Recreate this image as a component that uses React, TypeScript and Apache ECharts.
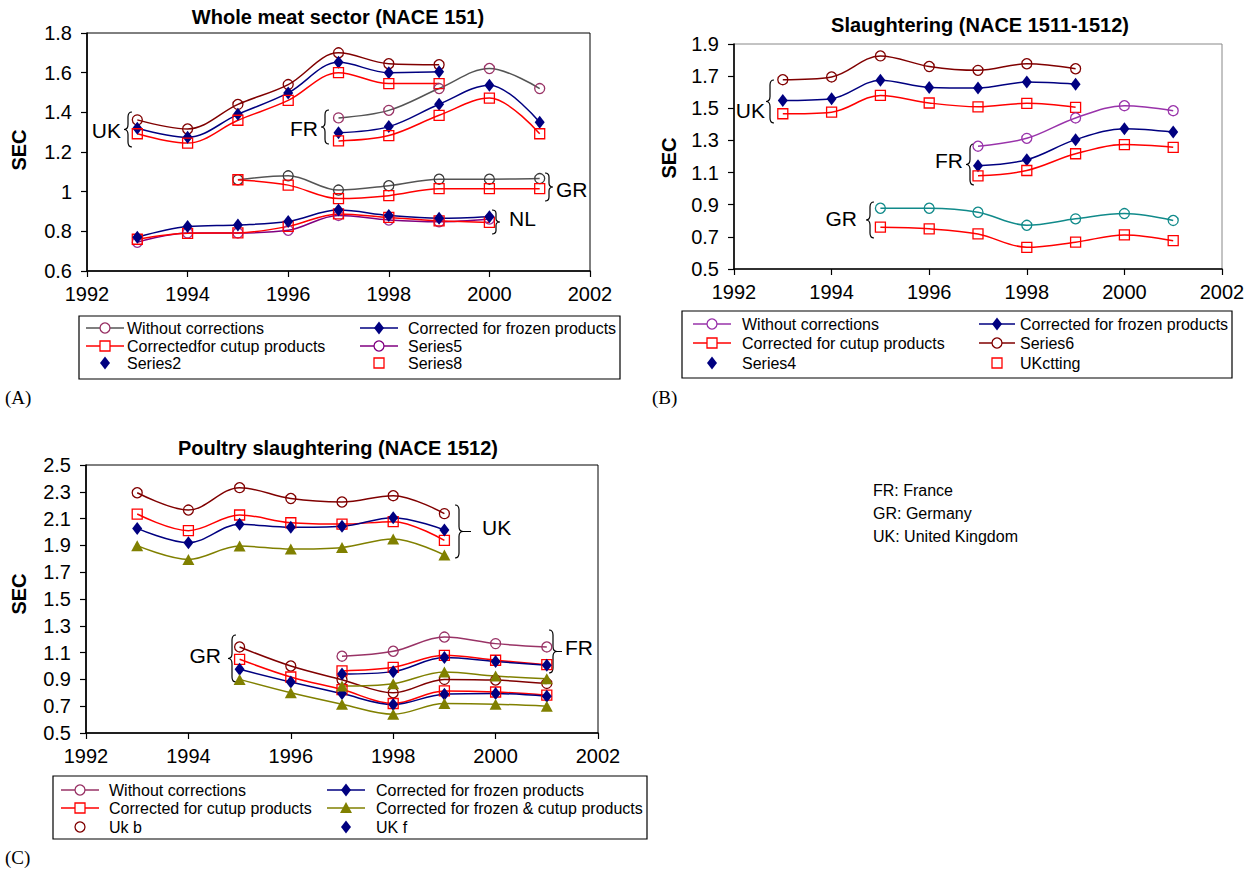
import { useEffect, useRef } from "react";
import * as echarts from "echarts";

const FONT = "'Liberation Sans', Arial, Helvetica, sans-serif";
const SERIF = "'Liberation Serif', 'Times New Roman', Times, serif";

// ---------- data ----------
const YEARS = [1993, 1994, 1995, 1996, 1997, 1998, 1999, 2000, 2001];
const X_MIN = 1992;
const X_MAX = 2002;
const X_STEP = 2;

// Panel A – Whole meat sector (NACE 151)
const A_UK_RAW = [1.362, 1.316, 1.44, 1.54, 1.7, 1.645, 1.64, null, null];
const A_UK_FROZEN = [1.32, 1.274, 1.39, 1.498, 1.652, 1.6, 1.604, null, null];
const A_UK_CUTUP = [1.292, 1.245, 1.36, 1.46, 1.6, 1.545, 1.545, null, null];
const A_FR_RAW = [null, null, null, null, 1.372, 1.41, 1.52, 1.621, 1.52];
const A_FR_FROZEN = [null, null, null, null, 1.297, 1.328, 1.441, 1.537, 1.35];
const A_FR_CUTUP = [null, null, null, null, 1.256, 1.283, 1.385, 1.472, 1.292];
const A_GR_RAW = [null, null, 1.06, 1.08, 1.008, 1.03, 1.063, 1.063, 1.066];
const A_GR_CUTUP = [null, null, 1.06, 1.033, 0.965, 0.98, 1.015, 1.015, 1.015];
const A_NL_FROZEN = [0.77, 0.824, 0.832, 0.85, 0.907, 0.88, 0.866, 0.874, null];
const A_NL_CUTUP = [0.76, 0.79, 0.792, 0.825, 0.888, 0.87, 0.853, 0.845, null];
const A_NL_RAW = [0.745, 0.792, 0.792, 0.805, 0.88, 0.857, 0.848, 0.862, null];

// Panel B – Slaughtering (NACE 1511-1512)
const B_UK_RAW = [1.678, 1.695, 1.826, 1.76, 1.736, 1.777, 1.746, null, null];
const B_UK_FROZEN = [1.549, 1.56, 1.674, 1.63, 1.626, 1.663, 1.65, null, null];
const B_UK_CUTUP = [1.466, 1.476, 1.58, 1.533, 1.509, 1.531, 1.506, null, null];
const B_FR_RAW = [null, null, null, null, 1.264, 1.313, 1.44, 1.516, 1.485];
const B_FR_FROZEN = [null, null, null, null, 1.143, 1.18, 1.305, 1.373, 1.352];
const B_FR_CUTUP = [null, null, null, null, 1.08, 1.113, 1.217, 1.274, 1.257];
const B_GR_RAW = [null, null, 0.878, 0.878, 0.853, 0.772, 0.812, 0.845, 0.802];
const B_GR_CUTUP = [null, null, 0.76, 0.75, 0.718, 0.635, 0.667, 0.712, 0.676];

// Panel C – Poultry slaughtering (NACE 1512)
const C_UK_RAW = [2.293, 2.164, 2.331, 2.25, 2.224, 2.271, 2.137, null, null];
const C_UK_CUTUP = [2.134, 2.01, 2.127, 2.069, 2.059, 2.077, 1.937, null, null];
const C_UK_FROZEN = [2.027, 1.92, 2.057, 2.035, 2.043, 2.107, 2.015, null, null];
const C_UK_BOTH = [1.898, 1.795, 1.895, 1.873, 1.885, 1.948, 1.828, null, null];
const C_GR_RAW = [null, null, 1.142, 1.0, 0.898, 0.8, 0.9, 0.895, 0.87];
const C_GR_CUTUP = [null, null, 1.05, 0.918, 0.824, 0.72, 0.814, 0.806, 0.782];
const C_GR_FROZEN = [null, null, 0.975, 0.88, 0.794, 0.712, 0.79, 0.794, 0.774];
const C_GR_BOTH = [null, null, 0.9, 0.8, 0.715, 0.64, 0.72, 0.715, 0.7];
const C_FR_RAW = [null, null, null, null, 1.073, 1.11, 1.216, 1.167, 1.142];
const C_FR_CUTUP = [null, null, null, null, 0.963, 0.99, 1.08, 1.043, 1.01];
const C_FR_FROZEN = [null, null, null, null, 0.94, 0.958, 1.063, 1.033, 1.006];
const C_FR_BOTH = [null, null, null, null, 0.85, 0.868, 0.955, 0.925, 0.905];

const TITLES = [
  "Whole meat sector (NACE 151)",
  "Slaughtering (NACE 1511-1512)",
  "Poultry slaughtering (NACE 1512)",
];
const NOTES = ["FR: France", "GR: Germany", "UK: United Kingdom"];

// ---------- styles ----------
const BROWN = "#800000";
const NAVY = "#000080";
const RED = "#ff0000";
const PLUM = "#993366";
const GREY = "#555555";
const DARK = "#3a3a3a";
const PURPLE = "#800080";
const VIOLET = "#9933aa";
const TEAL = "#108a8a";
const OLIVE = "#808000";

type Kind = "circle" | "square" | "diamond" | "triangle";

function mk(grid: number, name: string, values: (number | null)[], lineColor: string, kind: Kind, markColor: string) {
  const data = YEARS.map((y, i) => [y, values[i]]).filter((d) => d[1] !== null);
  const s: any = {
    type: "line",
    name,
    xAxisIndex: grid,
    yAxisIndex: grid,
    data,
    smooth: 0.35,
    silent: true,
    showAllSymbol: true,
    emphasis: { disabled: true },
    lineStyle: { color: lineColor, width: 1.5 },
    z: 3,
  };
  if (kind === "circle") {
    s.symbol = "circle";
    s.symbolSize = 10;
    s.itemStyle = { color: "rgba(255,255,255,0)", borderColor: markColor, borderWidth: 1.3 };
  } else if (kind === "square") {
    s.symbol = "rect";
    s.symbolSize = 10;
    s.itemStyle = { color: "rgba(255,255,255,0)", borderColor: markColor, borderWidth: 1.3 };
  } else if (kind === "diamond") {
    s.symbol = "diamond";
    s.symbolSize = [10, 13];
    s.itemStyle = { color: markColor, borderWidth: 0 };
  } else {
    s.symbol = "triangle";
    s.symbolSize = [12, 11];
    s.itemStyle = { color: markColor, borderWidth: 0 };
  }
  return s;
}

// ---------- braces ----------
const BRACES = [
  { name: "bA_UK", dir: "L", x: 124, y: 112, h: 35, tail: 0 },
  { name: "bA_FR", dir: "L", x: 321, y: 110, h: 34, tail: 0 },
  { name: "bA_GR", dir: "R", x: 545, y: 173, h: 28, tail: 0 },
  { name: "bA_NL", dir: "R", x: 492, y: 210, h: 24, tail: 0 },
  { name: "bB_UK", dir: "L", x: 766, y: 80, h: 43, tail: 0 },
  { name: "bB_FR", dir: "L", x: 966, y: 144, h: 41, tail: 0 },
  { name: "bB_GR", dir: "L", x: 866, y: 202, h: 36, tail: 0 },
  { name: "bC_UK", dir: "R", x: 455, y: 505, h: 53, tail: 8 },
  { name: "bC_FR", dir: "R", x: 549, y: 630, h: 43, tail: 5 },
  { name: "bC_GR", dir: "L", x: 228, y: 635, h: 47, tail: 0 },
];

const BRACE_LABELS = [
  { t: "UK", x: 121, y: 130, align: "right" },
  { t: "FR", x: 318, y: 128, align: "right" },
  { t: "GR", x: 556, y: 189, align: "left" },
  { t: "NL", x: 509, y: 218, align: "left" },
  { t: "UK", x: 765, y: 110, align: "right" },
  { t: "FR", x: 963, y: 160, align: "right" },
  { t: "GR", x: 857, y: 218, align: "right" },
  { t: "UK", x: 482, y: 527, align: "left" },
  { t: "FR", x: 565, y: 647, align: "left" },
  { t: "GR", x: 221, y: 655, align: "right" },
];

function braceD(h: number, dir: string, tail: number): string {
  const w = 8;
  const m = h / 2;
  const r = Math.min(5, h / 7);
  const X = (x: number) => (dir === "L" ? x : w - x);
  let d =
    `M ${X(w)} 0 Q ${X(w / 2)} 0 ${X(w / 2)} ${r} L ${X(w / 2)} ${m - r} ` +
    `Q ${X(w / 2)} ${m} ${X(0)} ${m} Q ${X(w / 2)} ${m} ${X(w / 2)} ${m + r} ` +
    `L ${X(w / 2)} ${h - r} Q ${X(w / 2)} ${h} ${X(w)} ${h}`;
  if (tail > 0) d += ` M ${w} ${m} L ${w + tail} ${m}`;
  return d;
}

let shapesRegistered = false;
function ensureShapes() {
  if (shapesRegistered) return;
  shapesRegistered = true;
  for (const b of BRACES) {
    echarts.graphic.registerShape(b.name, echarts.graphic.extendPath(braceD(b.h, b.dir, b.tail), {}) as any);
  }
}

// ---------- legends ----------
type LegItem = { col: number; row: number; kind: Kind; mark: string; line: string | null; text: string };
const A_LEGEND: LegItem[] = [
  { col: 0, row: 0, kind: "circle", mark: PLUM, line: GREY, text: "Without corrections" },
  { col: 1, row: 0, kind: "diamond", mark: NAVY, line: NAVY, text: "Corrected for frozen products" },
  { col: 0, row: 1, kind: "square", mark: RED, line: RED, text: "Correctedfor cutup products" },
  { col: 1, row: 1, kind: "circle", mark: PURPLE, line: PURPLE, text: "Series5" },
  { col: 0, row: 2, kind: "diamond", mark: NAVY, line: null, text: "Series2" },
  { col: 1, row: 2, kind: "square", mark: RED, line: null, text: "Series8" },
];
const B_LEGEND: LegItem[] = [
  { col: 0, row: 0, kind: "circle", mark: VIOLET, line: VIOLET, text: "Without corrections" },
  { col: 1, row: 0, kind: "diamond", mark: NAVY, line: NAVY, text: "Corrected for frozen products" },
  { col: 0, row: 1, kind: "square", mark: RED, line: RED, text: "Corrected for cutup products" },
  { col: 1, row: 1, kind: "circle", mark: BROWN, line: BROWN, text: "Series6" },
  { col: 0, row: 2, kind: "diamond", mark: NAVY, line: null, text: "Series4" },
  { col: 1, row: 2, kind: "square", mark: RED, line: null, text: "UKctting" },
];
const C_LEGEND: LegItem[] = [
  { col: 0, row: 0, kind: "circle", mark: PLUM, line: PLUM, text: "Without corrections" },
  { col: 1, row: 0, kind: "diamond", mark: NAVY, line: NAVY, text: "Corrected for frozen products" },
  { col: 0, row: 1, kind: "square", mark: RED, line: RED, text: "Corrected for cutup products" },
  { col: 1, row: 1, kind: "triangle", mark: OLIVE, line: OLIVE, text: "Corrected for frozen & cutup products" },
  { col: 0, row: 2, kind: "circle", mark: BROWN, line: null, text: "Uk b" },
  { col: 1, row: 2, kind: "diamond", mark: NAVY, line: null, text: "UK f" },
];

type LegLayout = {
  box: [number, number, number, number];
  rows: number[];
  cols: { l1: number; l2: number; mx: number; tx: number }[];
};

function marker(kind: Kind, x: number, y: number, color: string): any {
  if (kind === "circle")
    return { type: "circle", shape: { cx: x, cy: y, r: 5 }, style: { fill: "#fff", stroke: color, lineWidth: 1.3 } };
  if (kind === "square")
    return { type: "rect", shape: { x: x - 5, y: y - 5, width: 10, height: 10 }, style: { fill: "#fff", stroke: color, lineWidth: 1.3 } };
  if (kind === "diamond")
    return { type: "polygon", shape: { points: [[x, y - 6.5], [x + 5, y], [x, y + 6.5], [x - 5, y]] }, style: { fill: color } };
  return { type: "polygon", shape: { points: [[x, y - 6], [x + 6, y + 5], [x - 6, y + 5]] }, style: { fill: color } };
}

function legendEls(items: LegItem[], L: LegLayout): any[] {
  const els: any[] = [
    {
      type: "rect",
      shape: { x: L.box[0], y: L.box[1], width: L.box[2], height: L.box[3] },
      style: { fill: "#fff", stroke: "#000", lineWidth: 1.2 },
    },
  ];
  for (const it of items) {
    const c = L.cols[it.col];
    const y = L.rows[it.row];
    if (it.line)
      els.push({ type: "line", shape: { x1: c.l1, y1: y, x2: c.l2, y2: y }, style: { stroke: it.line, lineWidth: 1.5 } });
    els.push(marker(it.kind, c.mx, y, it.mark));
    els.push({
      type: "text",
      x: c.tx,
      y,
      style: { text: it.text, fill: "#000", fontSize: 16, fontFamily: FONT, align: "left", verticalAlign: "middle" },
    });
  }
  return els;
}

function txt(text: string, x: number, y: number, size: number, opts: any = {}): any {
  return {
    type: "text",
    x,
    y,
    rotation: opts.rotation || 0,
    style: {
      text,
      fill: "#000",
      fontSize: size,
      fontFamily: opts.family || FONT,
      fontWeight: opts.bold ? "bold" : "normal",
      align: opts.align || "left",
      verticalAlign: "middle",
    },
  };
}

function buildOption(): any {
  const grids = [
    { left: 87, top: 33, width: 503, height: 238, borderColor: "#000" },
    { left: 734, top: 44, width: 488, height: 225, borderColor: "#888" },
    { left: 86, top: 465, width: 512, height: 268, borderColor: "#000" },
  ].map((g) => ({ ...g, show: true, borderWidth: 1, containLabel: false }));

  const xAxis = [0, 1, 2].map((gi) => ({
    type: "value",
    gridIndex: gi,
    min: X_MIN,
    max: X_MAX,
    interval: X_STEP,
    axisLine: { show: true, onZero: false, lineStyle: { color: "#000", width: 1.6 } },
    axisTick: { show: true, length: 6, lineStyle: { color: "#000", width: 1.2 } },
    axisLabel: {
      fontSize: 20,
      color: "#000",
      fontFamily: FONT,
      margin: 13,
      formatter: (v: number) => String(Math.round(v)),
    },
    splitLine: { show: false },
  }));

  const yRanges = [
    [0.6, 1.8],
    [0.5, 1.9],
    [0.5, 2.5],
  ];
  const yAxis = yRanges.map((r, gi) => ({
    type: "value",
    gridIndex: gi,
    min: r[0],
    max: r[1],
    interval: 0.2,
    axisLine: { show: true, onZero: false, lineStyle: { color: "#000", width: 1.6 } },
    axisTick: { show: true, length: 6, lineStyle: { color: "#000", width: 1.2 } },
    axisLabel: { fontSize: 20, color: "#000", fontFamily: FONT, margin: 15 },
    splitLine: { show: false },
  }));

  const series = [
    // A
    mk(0, "A UK without corrections", A_UK_RAW, BROWN, "circle", BROWN),
    mk(0, "A UK corrected for frozen products", A_UK_FROZEN, NAVY, "diamond", NAVY),
    mk(0, "A UK corrected for cutup products", A_UK_CUTUP, RED, "square", RED),
    mk(0, "A FR without corrections", A_FR_RAW, GREY, "circle", PLUM),
    mk(0, "A FR corrected for frozen products", A_FR_FROZEN, NAVY, "diamond", NAVY),
    mk(0, "A FR corrected for cutup products", A_FR_CUTUP, RED, "square", RED),
    mk(0, "A GR without corrections", A_GR_RAW, GREY, "circle", DARK),
    mk(0, "A GR corrected for cutup products", A_GR_CUTUP, RED, "square", RED),
    mk(0, "A NL without corrections", A_NL_RAW, PURPLE, "circle", "#993399"),
    mk(0, "A NL corrected for cutup products", A_NL_CUTUP, RED, "square", RED),
    mk(0, "A NL corrected for frozen products", A_NL_FROZEN, NAVY, "diamond", NAVY),
    // B
    mk(1, "B UK without corrections", B_UK_RAW, BROWN, "circle", BROWN),
    mk(1, "B UK corrected for frozen products", B_UK_FROZEN, NAVY, "diamond", NAVY),
    mk(1, "B UK corrected for cutup products", B_UK_CUTUP, RED, "square", RED),
    mk(1, "B FR without corrections", B_FR_RAW, VIOLET, "circle", VIOLET),
    mk(1, "B FR corrected for frozen products", B_FR_FROZEN, NAVY, "diamond", NAVY),
    mk(1, "B FR corrected for cutup products", B_FR_CUTUP, RED, "square", RED),
    mk(1, "B GR without corrections", B_GR_RAW, TEAL, "circle", TEAL),
    mk(1, "B GR corrected for cutup products", B_GR_CUTUP, RED, "square", RED),
    // C
    mk(2, "C UK without corrections", C_UK_RAW, BROWN, "circle", BROWN),
    mk(2, "C UK corrected for cutup products", C_UK_CUTUP, RED, "square", RED),
    mk(2, "C UK corrected for frozen products", C_UK_FROZEN, NAVY, "diamond", NAVY),
    mk(2, "C UK corrected for frozen & cutup products", C_UK_BOTH, OLIVE, "triangle", OLIVE),
    mk(2, "C GR without corrections", C_GR_RAW, BROWN, "circle", BROWN),
    mk(2, "C GR corrected for cutup products", C_GR_CUTUP, RED, "square", RED),
    mk(2, "C GR corrected for frozen products", C_GR_FROZEN, NAVY, "diamond", NAVY),
    mk(2, "C GR corrected for frozen & cutup products", C_GR_BOTH, OLIVE, "triangle", OLIVE),
    mk(2, "C FR without corrections", C_FR_RAW, PLUM, "circle", PLUM),
    mk(2, "C FR corrected for cutup products", C_FR_CUTUP, RED, "square", RED),
    mk(2, "C FR corrected for frozen products", C_FR_FROZEN, NAVY, "diamond", NAVY),
    mk(2, "C FR corrected for frozen & cutup products", C_FR_BOTH, OLIVE, "triangle", OLIVE),
  ];

  const g: any[] = [];
  g.push(txt(TITLES[0], 338, 17, 20, { bold: true, align: "center" }));
  g.push(txt(TITLES[1], 980, 25, 20, { bold: true, align: "center" }));
  g.push(txt(TITLES[2], 338, 448, 20, { bold: true, align: "center" }));
  g.push(txt("SEC", 19, 150, 20, { bold: true, align: "center", rotation: Math.PI / 2 }));
  g.push(txt("SEC", 669, 158, 20, { bold: true, align: "center", rotation: Math.PI / 2 }));
  g.push(txt("SEC", 19, 594, 20, { bold: true, align: "center", rotation: Math.PI / 2 }));
  g.push(txt("(A)", 5, 397, 19, { family: SERIF }));
  g.push(txt("(B)", 652, 397, 19, { family: SERIF }));
  g.push(txt("(C)", 5, 857, 19, { family: SERIF }));
  NOTES.forEach((n, i) => g.push(txt(n, 873, 490 + i * 23, 16)));
  for (const b of BRACES) {
    g.push({ type: b.name, x: b.x, y: b.y, style: { stroke: "#000", fill: "none", lineWidth: 1.2 } });
  }
  for (const l of BRACE_LABELS) g.push(txt(l.t, l.x, l.y, 21, { align: l.align }));

  g.push(
    ...legendEls(A_LEGEND, {
      box: [79, 316, 541, 63],
      rows: [328, 346, 363],
      cols: [
        { l1: 86, l2: 124, mx: 105, tx: 127 },
        { l1: 360, l2: 398, mx: 379, tx: 408 },
      ],
    })
  );
  g.push(
    ...legendEls(B_LEGEND, {
      box: [682, 311, 550, 67],
      rows: [324, 343, 363],
      cols: [
        { l1: 693, l2: 731, mx: 712, tx: 742 },
        { l1: 979, l2: 1015, mx: 997, tx: 1020 },
      ],
    })
  );
  g.push(
    ...legendEls(C_LEGEND, {
      box: [53, 776, 594, 63],
      rows: [790, 808, 827],
      cols: [
        { l1: 61, l2: 99, mx: 80, tx: 109 },
        { l1: 327, l2: 365, mx: 346, tx: 376 },
      ],
    })
  );

  return {
    animation: false,
    backgroundColor: "#fff",
    textStyle: { fontFamily: FONT },
    grid: grids,
    xAxis,
    yAxis,
    series,
    graphic: { elements: g },
  };
}

export default function App() {
  const ref = useRef<HTMLDivElement>(null);
  useEffect(() => {
    if (!ref.current) return;
    ensureShapes();
    const chart = echarts.init(ref.current, undefined, { renderer: "svg", width: 1257, height: 869 });
    chart.setOption(buildOption());
    return () => chart.dispose();
  }, []);
  return (
    <div
      ref={ref}
      style={{ position: "absolute", left: 0, top: 0, width: 1257, height: 869, background: "#fff" }}
    />
  );
}
